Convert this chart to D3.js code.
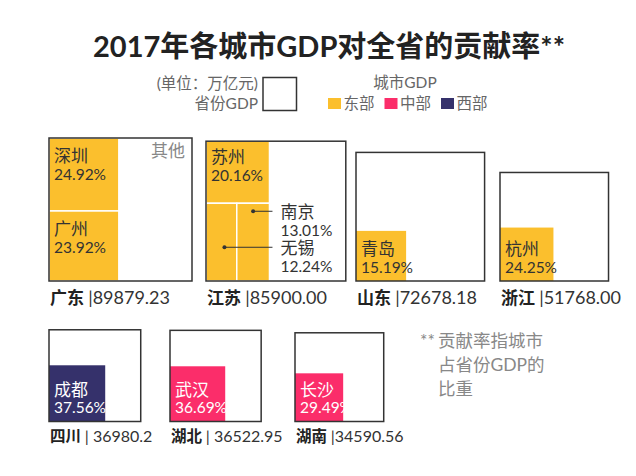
<!DOCTYPE html>
<html><head><meta charset="utf-8">
<script src="https://cdn.jsdelivr.net/npm/d3@7"></script>
<style>body{margin:0;background:#fff} text{font-family:Lato,"Noto Sans CJK SC",sans-serif}</style>
</head><body><svg id="c" width="636" height="476"></svg>
<script>
// ---------- data ----------
const provinces = ["广东","江苏","山东","浙江","四川","湖北","湖南"];
const provinceGDP = [89879.23, 85900.00, 72678.18, 51768.00, 36980.2, 36522.95, 34590.56];
const provinceGDPLabels = ["|89879.23","|85900.00","|72678.18","|51768.00","| 36980.2","| 36522.95","|34590.56"];
const provinceRegion = ["东部","东部","东部","东部","西部","中部","中部"];
const cities = ["深圳","广州","苏州","南京","无锡","青岛","杭州","成都","武汉","长沙"];
const cityProvince = ["广东","广东","江苏","江苏","江苏","山东","浙江","四川","湖北","湖南"];
const cityShare = [24.92,23.92,20.16,13.01,12.24,15.19,24.25,37.56,36.69,29.49];
const regions = ["东部","中部","西部"];
const regionColors = ["#FBBF2D","#FB2D6A","#35316B"];

// ---------- layout ----------
const boxLeft = [49,206,356,500,49,170,295];
const boxBottom = [281,281,281,281,421.5,421.5,421.5];
const nameOffset = [23,23,23,23,20.5,20.5,20.5];
const nameSize = [17,17,17,17,15.5,15.5,15.5];
const numSize = [18,18,18,18,16,16,16];

const svg = d3.select("#c");
const color = d3.scaleOrdinal().domain(regions).range(regionColors);
const side = d3.scaleSqrt().domain([0, d3.max(provinceGDP)]).range([0, 143]);

// title
svg.append("text").attr("x",329).attr("y",57).attr("text-anchor","middle")
  .attr("font-size",29).attr("font-weight","bold").attr("fill","#222")
  .text("2017年各城市GDP对全省的贡献率**");

// legend
const lg = svg.append("g");
lg.append("text").attr("x",258).attr("y",89).attr("text-anchor","end")
  .attr("font-size",15.5).attr("fill","#666").text("(单位：万亿元)");
lg.append("text").attr("x",258).attr("y",109).attr("text-anchor","end")
  .attr("font-size",15.5).attr("fill","#666").text("省份GDP");
lg.append("rect").attr("x",263).attr("y",77.5).attr("width",33.5).attr("height",33)
  .attr("fill","#fff").attr("stroke","#333").attr("stroke-width",1.5);
lg.append("text").attr("x",405).attr("y",88).attr("text-anchor","middle")
  .attr("font-size",15.5).attr("fill","#666").text("城市GDP");
const legX = d3.scalePoint().domain(regions).range([328,441]);
regions.forEach(r=>{
  lg.append("rect").attr("x",legX(r)).attr("y",98).attr("width",13).attr("height",11).attr("fill",color(r));
  lg.append("text").attr("x",legX(r)+15.5).attr("y",109).attr("font-size",15.5).attr("fill","#666").text(r);
});

// provinces
provinces.forEach((p,i)=>{
  const S = side(provinceGDP[i]);
  const x0 = boxLeft[i], y1 = boxBottom[i], y0 = y1 - S;
  const g = svg.append("g");
  g.append("rect").attr("x",x0).attr("y",y0).attr("width",S).attr("height",S).attr("fill","#fff");
  const idx = cities.map((c,j)=>j).filter(j=>cityProvince[j]===p);
  const shares = idx.map(j=>cityShare[j]);
  const total = d3.sum(shares);
  const col = color(provinceRegion[i]);
  const txtCol = provinceRegion[i]==="东部" ? "#333" : "#fff";
  const labels = [];
  if (idx.length === 1) {
    const s = S*Math.sqrt(shares[0]/100);
    g.append("rect").attr("x",x0).attr("y",y1-s).attr("width",s).attr("height",s).attr("fill",col);
    labels.push({x:x0+5, yName:y1-26, yPct:y1-8.5, j:idx[0]});
  } else {
    const w = S*total/100;
    const hFirst = S*shares[0]/total;
    if (idx.length === 2) {
      let y = y0;
      idx.forEach((j,k)=>{
        const h = S*shares[k]/total;
        g.append("rect").attr("x",x0).attr("y",y).attr("width",w).attr("height",h)
          .attr("fill",col).attr("stroke","#fff").attr("stroke-width",1.5);
        labels.push({x:x0+5, yName:y+24, yPct:y+42, j});
        y += h;
      });
    } else {
      g.append("rect").attr("x",x0).attr("y",y0).attr("width",w).attr("height",hFirst)
        .attr("fill",col).attr("stroke","#fff").attr("stroke-width",1.5);
      labels.push({x:x0+5, yName:y0+22, yPct:y0+40, j:idx[0]});
      const rest = idx.slice(1).reverse();
      const restShares = rest.map(j=>cityShare[j]);
      const restTotal = d3.sum(restShares);
      const stripH = S - hFirst, stripY = y0 + hFirst;
      let x = x0;
      const dotFrac = [[0.6,44],[0.5,8]];
      rest.forEach((j,k)=>{
        const ww = w*restShares[k]/restTotal;
        g.append("rect").attr("x",x).attr("y",stripY).attr("width",ww).attr("height",stripH)
          .attr("fill",col).attr("stroke","#fff").attr("stroke-width",1.5);
        const dx = x + ww*dotFrac[k][0], dy = stripY + dotFrac[k][1];
        svg.append("line").attr("x1",dx).attr("x2",x0+w+3).attr("y1",dy).attr("y2",dy)
          .attr("stroke","#333").attr("stroke-width",1);
        svg.append("circle").attr("cx",dx).attr("cy",dy).attr("r",2).attr("fill","#333");
        svg.append("text").attr("x",x0+w+11).attr("y",dy+6.5).attr("font-size",17).attr("fill","#333").text(cities[j]);
        svg.append("text").attr("x",x0+w+11).attr("y",dy+24.5).attr("font-size",15.5).attr("fill","#333").text(cityShare[j].toFixed(2)+"%");
        x += ww;
      });
    }
  }
  g.append("rect").attr("x",x0).attr("y",y0).attr("width",S).attr("height",S)
    .attr("fill","none").attr("stroke","#333").attr("stroke-width",1.5);
  labels.forEach(l=>{
    g.append("text").attr("x",l.x).attr("y",l.yName).attr("font-size",17).attr("fill",txtCol).text(cities[l.j]);
    g.append("text").attr("x",l.x).attr("y",l.yPct).attr("font-size",15.5).attr("fill",txtCol).text(cityShare[l.j].toFixed(2)+"%");
  });
  if (i===0) {
    g.append("text").attr("x",x0+S-7).attr("y",y0+19).attr("text-anchor","end")
      .attr("font-size",17).attr("fill","#888").text("其他");
  }
  const t = g.append("text").attr("x",x0+1).attr("y",y1+nameOffset[i]).attr("fill","#222");
  t.append("tspan").attr("font-weight","bold").attr("font-size",nameSize[i]).text(p+" ");
  t.append("tspan").attr("fill","#333").attr("font-size",numSize[i]).text(provinceGDPLabels[i]);
});

// footnote
const fn = svg.append("g").attr("fill","#888").attr("font-size",17.5);
fn.append("text").attr("x",420).attr("y",347).text("**");
["贡献率指城市","占省份GDP的","比重"].forEach((s,k)=>{
  fn.append("text").attr("x",438).attr("y",347+k*24).text(s);
});
</script></body></html>
